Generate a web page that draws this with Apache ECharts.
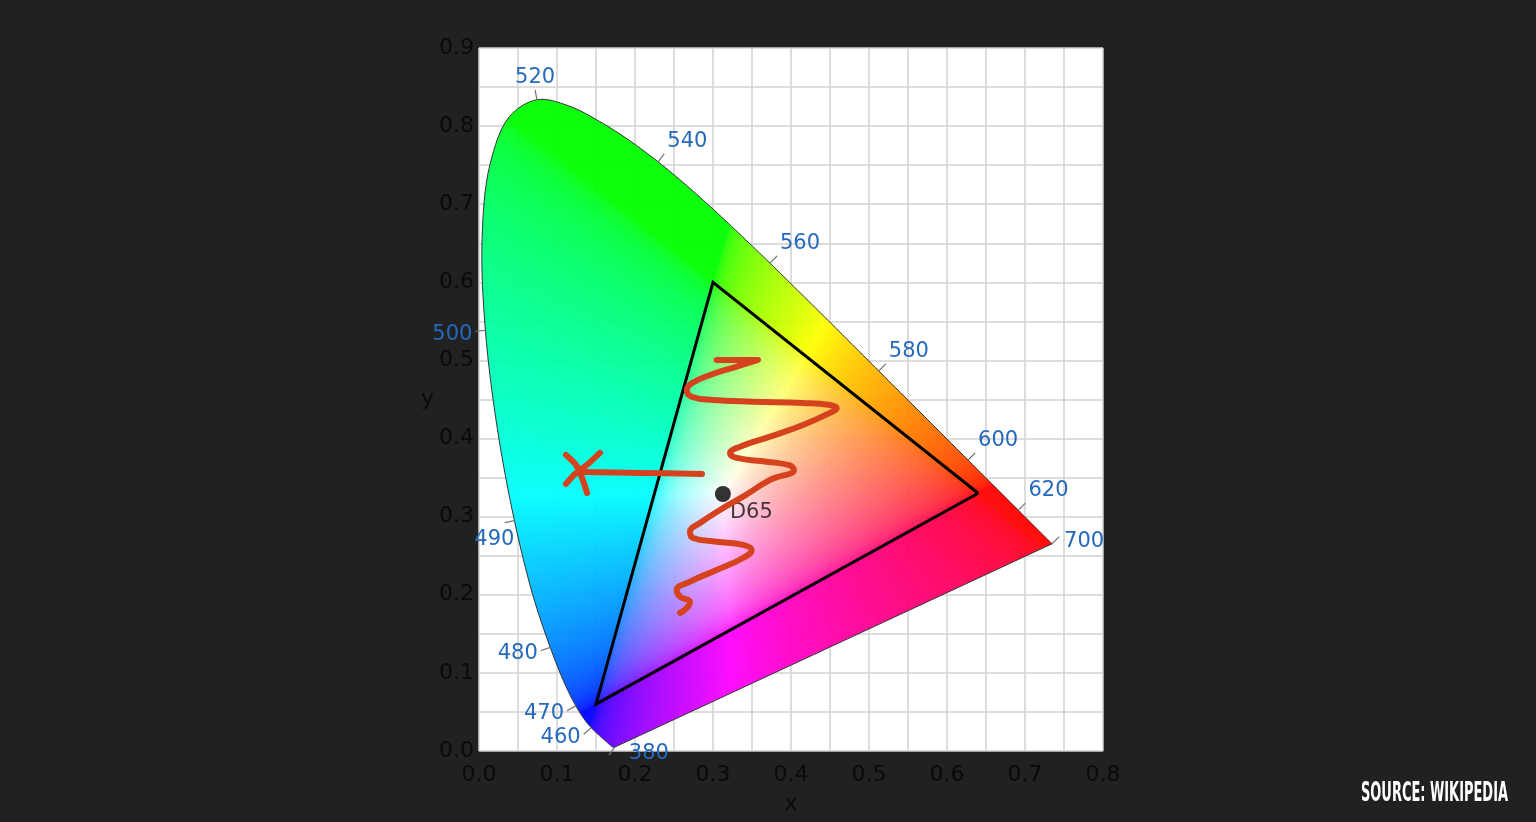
<!DOCTYPE html>
<html><head><meta charset="utf-8">
<script src="https://cdn.jsdelivr.net/npm/echarts@6/dist/echarts.min.js"></script>
<style>html,body{margin:0;padding:0;background:#212121;}#c{width:1536px;height:822px;}</style>
</head><body><div id="c"></div>
<script>
// CIE 1931 spectral locus (nm, x, y)
const wavelengths = [380,385,390,395,400,405,410,415,420,425,430,435,440,445,450,455,460,465,470,475,480,485,490,495,500,505,510,515,520,525,530,535,540,545,550,555,560,565,570,575,580,585,590,595,600,605,610,615,620,625,630,635,640,645,650,655,660,665,670,675,680,685,690,695,700];
const locusX = [0.1741,0.1740,0.1738,0.1736,0.1733,0.1730,0.1726,0.1721,0.1714,0.1703,0.1689,0.1669,0.1644,0.1611,0.1566,0.1510,0.1440,0.1355,0.1241,0.1096,0.0913,0.0687,0.0454,0.0235,0.0082,0.0039,0.0139,0.0389,0.0743,0.1142,0.1547,0.1929,0.2296,0.2658,0.3016,0.3373,0.3731,0.4087,0.4441,0.4788,0.5125,0.5448,0.5752,0.6029,0.6270,0.6482,0.6658,0.6801,0.6915,0.7006,0.7079,0.7140,0.7190,0.7230,0.7260,0.7283,0.7300,0.7311,0.7320,0.7327,0.7334,0.7340,0.7344,0.7346,0.7347];
const locusY = [0.0050,0.0050,0.0049,0.0049,0.0048,0.0048,0.0048,0.0048,0.0051,0.0058,0.0069,0.0086,0.0109,0.0138,0.0177,0.0227,0.0297,0.0399,0.0578,0.0868,0.1327,0.2007,0.2950,0.4127,0.5384,0.6548,0.7502,0.8120,0.8338,0.8262,0.8059,0.7816,0.7543,0.7243,0.6923,0.6589,0.6245,0.5896,0.5547,0.5202,0.4866,0.4544,0.4242,0.3965,0.3725,0.3514,0.3340,0.3197,0.3083,0.2993,0.2920,0.2859,0.2809,0.2770,0.2740,0.2717,0.2700,0.2689,0.2680,0.2673,0.2666,0.2660,0.2656,0.2654,0.2653];
const labeledWavelengths = [380,460,470,480,490,500,520,540,560,580,600,620,700];

// sRGB primaries triangle (R, G, B, back to R)
const gamutX = [0.64,0.30,0.15,0.64];
const gamutY = [0.33,0.60,0.06,0.33];
const whiteName = 'D65';
const whiteX = 0.3127, whiteY = 0.3290;

// hand-drawn annotation strokes
const squiggleX = [0.3047,0.3577,0.3304,0.2962,0.2727,0.2663,0.2727,0.3000,0.3513,0.4154,0.4500,0.4586,0.4500,0.4154,0.3731,0.3346,0.3218,0.3304,0.3688,0.3987,0.4038,0.3731,0.3385,0.3090,0.2833,0.2705,0.2744,0.3047,0.3385,0.3496,0.3385,0.3047,0.2705,0.2535,0.2577,0.2705,0.2663,0.2577];
const squiggleY = [0.5006,0.5006,0.4921,0.4814,0.4708,0.4622,0.4536,0.4494,0.4472,0.4456,0.4430,0.4388,0.4328,0.4174,0.4024,0.3896,0.3816,0.3752,0.3704,0.3656,0.3598,0.3470,0.3256,0.3086,0.2919,0.2808,0.2727,0.2680,0.2638,0.2574,0.2471,0.2318,0.2168,0.2061,0.1976,0.1912,0.1831,0.1767];
const shaftX = [0.2859,0.2064,0.1333];
const shaftY = [0.3547,0.3560,0.3572];
const headAX = [0.1551,0.1397,0.1231,0.1115];
const headAY = [0.3816,0.3675,0.3547,0.3419];
const headBX = [0.1115,0.1244,0.1321,0.1385];
const headBY = [0.3790,0.3662,0.3496,0.3303];

const xMin = 0, xMax = 0.8, yMin = 0, yMax = 0.9, tickStep = 0.1;
const sourceText = 'SOURCE: WIKIPEDIA';

const zip = (a, b) => a.map((v, i) => [v, b[i]]);

function gam(c) { return c <= 0.0031308 ? 12.92 * c : 1.055 * Math.pow(c, 1 / 2.4) - 0.055; }

// centripetal Catmull-Rom for drawing a smooth outline through the given pixel points
function spline(pts, steps) {
  const n = pts.length, out = [pts[0]];
  const d = (a, b) => Math.pow(Math.hypot(a[0] - b[0], a[1] - b[1]), 0.5) + 1e-4;
  for (let i = 0; i < n - 1; i++) {
    const p1 = pts[i], p2 = pts[i + 1];
    const p0 = i > 0 ? pts[i - 1] : [2 * p1[0] - p2[0], 2 * p1[1] - p2[1]];
    const p3 = i + 2 < n ? pts[i + 2] : [2 * p2[0] - p1[0], 2 * p2[1] - p1[1]];
    const t0 = 0, t1 = t0 + d(p0, p1), t2 = t1 + d(p1, p2), t3 = t2 + d(p2, p3);
    const lerp = (a, b, ta, tb, t) => [a[0] * (tb - t) / (tb - ta) + b[0] * (t - ta) / (tb - ta), a[1] * (tb - t) / (tb - ta) + b[1] * (t - ta) / (tb - ta)];
    for (let s = 1; s <= steps; s++) {
      const t = t1 + (t2 - t1) * s / steps;
      const A1 = lerp(p0, p1, t0, t1, t), A2 = lerp(p1, p2, t1, t2, t), A3 = lerp(p2, p3, t2, t3, t);
      const B1 = lerp(A1, A2, t0, t2, t), B2 = lerp(A2, A3, t1, t3, t);
      out.push(lerp(B1, B2, t1, t2, t));
    }
  }
  return out;
}

let fillCache = { key: '', canvas: null };
function renderFill(params, api) {
  const p0 = api.coord([xMin, yMax]);
  const p1 = api.coord([xMax, yMin]);
  const x0 = Math.round(p0[0]), y0 = Math.round(p0[1]);
  const w = Math.round(p1[0]) - x0, h = Math.round(p1[1]) - y0;
  const pts = spline(locusX.map((x, i) => api.coord([x, locusY[i]])), 8);
  const key = [x0, y0, w, h].join(',');
  if (fillCache.key !== key) {
    const cv = document.createElement('canvas');
    cv.width = w; cv.height = h;
    const ctx = cv.getContext('2d');
    const img = ctx.createImageData(w, h);
    const d = img.data;
    for (let py = 0; py < h; py++) {
      const y = yMax - (yMax - yMin) * (py + 0.5) / h;
      for (let px = 0; px < w; px++) {
        const x = xMin + (xMax - xMin) * (px + 0.5) / w;
        const o = (py * w + px) * 4;
        if (y <= 0.001) continue;
        const X = x / y, Z = (1 - x - y) / y;
        let r = 3.2406 * X - 1.5372 - 0.4986 * Z;
        let g = -0.9689 * X + 1.8758 + 0.0415 * Z;
        let b = 0.0557 * X - 0.2040 + 1.0570 * Z;
        r = Math.max(r, 0); g = Math.max(g, 0); b = Math.max(b, 0);
        const m = Math.max(r, g, b) || 1;
        d[o] = Math.round(255 * gam(r / m));
        d[o + 1] = Math.round(255 * gam(g / m));
        d[o + 2] = Math.round(255 * gam(b / m));
        d[o + 3] = 255;
      }
    }
    ctx.putImageData(img, 0, 0);
    ctx.globalCompositeOperation = 'destination-in';
    ctx.beginPath();
    pts.forEach((p, i) => { if (i) ctx.lineTo(p[0] - x0, p[1] - y0); else ctx.moveTo(p[0] - x0, p[1] - y0); });
    ctx.closePath();
    ctx.fillStyle = '#000';
    ctx.fill();
    fillCache = { key, canvas: cv };
  }
  return {
    type: 'group',
    children: [
      { type: 'image', style: { image: fillCache.canvas, x: x0, y: y0, width: w, height: h, opacity: 0.94 } },
      { type: 'polygon', shape: { points: pts }, style: { fill: 'none', stroke: '#333', lineWidth: 1 } }
    ]
  };
}

function renderLabel(params, api) {
  const wl = api.value(2);
  const idx = wavelengths.indexOf(wl);
  const pts = locusX.map((x, i) => api.coord([x, locusY[i]]));
  const p = pts[idx];
  const dist = (a, b) => Math.hypot(a[0] - b[0], a[1] - b[1]);
  let j = idx, k = idx;
  while (j > 0 && dist(pts[j], p) < 15) j--;
  while (k < pts.length - 1 && dist(pts[k], p) < 15) k++;
  let tx = pts[k][0] - pts[j][0], ty = pts[k][1] - pts[j][1];
  const tl = Math.hypot(tx, ty); tx /= tl; ty /= tl;
  const nx = ty, ny = -tx;
  const tick = 10;
  const ex = p[0] + nx * tick, ey = p[1] + ny * tick;
  let align = 'center', valign = 'middle', lx = ex, ly = ey;
  if (nx > 0.3) {
    align = 'left'; lx = ex + 3;
    if (ny < -0.3) { valign = 'bottom'; ly = ey - 2; }
  } else if (nx < -0.3) {
    align = 'right'; lx = ex - 3; ly = ey + 3;
  } else if (ny < 0) {
    valign = 'bottom'; ly = ey - 2;
  }
  if (wl === 490) { align = 'right'; lx = p[0]; ly = p[1] + 19; }
  if (wl === wavelengths[0]) { align = 'left'; valign = 'middle'; lx = p[0] + 14; ly = p[1] + 6; }
  if (wl === wavelengths[wavelengths.length - 1]) { align = 'left'; valign = 'middle'; lx = ex + 5; ly = p[1] - 2; }
  return {
    type: 'group',
    children: [
      { type: 'line', shape: { x1: p[0], y1: p[1], x2: ex, y2: ey }, style: { stroke: '#777', lineWidth: 1.2 } },
      { type: 'text', style: { text: String(wl), x: lx, y: ly, align: align, verticalAlign: valign, fontSize: 21, fontFamily: 'DejaVu Sans', fill: '#2569bd' } }
    ]
  };
}

const chart = echarts.init(document.getElementById('c'), null, { renderer: 'canvas' });

const meas = document.createElement('canvas').getContext('2d');
meas.font = 'bold 26px "DejaVu Sans Condensed"';
const srcScale = 147 / meas.measureText(sourceText).width;

const axisLabelStyle = { color: '#0a0a0a', fontSize: 22, fontFamily: 'DejaVu Sans' };
const gridLine = { lineStyle: { color: '#d2d2d2', width: 1.5 } };
const annot = { color: '#d5431e', width: 6, cap: 'round', join: 'round' };

chart.setOption({
  backgroundColor: '#212121',
  animation: false,
  grid: { left: 479, right: 433, top: 48, bottom: 71, show: true, backgroundColor: '#ffffff', borderWidth: 0 },
  xAxis: {
    type: 'value', min: xMin, max: xMax, interval: tickStep,
    name: 'x', nameLocation: 'middle', nameGap: 42,
    nameTextStyle: { color: '#0a0a0a', fontSize: 22, fontFamily: 'DejaVu Sans' },
    axisLine: { show: false }, axisTick: { show: false },
    axisLabel: Object.assign({ margin: 13, formatter: v => v.toFixed(1) }, axisLabelStyle),
    splitLine: Object.assign({ show: true }, gridLine),
    minorTick: { show: false, splitNumber: 2 },
    minorSplitLine: Object.assign({ show: true }, gridLine)
  },
  yAxis: {
    type: 'value', min: yMin, max: yMax, interval: tickStep,
    name: 'y', nameLocation: 'middle', nameGap: 38, nameRotate: 0,
    nameTextStyle: { color: '#0a0a0a', fontSize: 22, fontFamily: 'DejaVu Sans' },
    axisLine: { show: false }, axisTick: { show: false },
    axisLabel: Object.assign({ margin: 5, formatter: v => v.toFixed(1) }, axisLabelStyle),
    splitLine: Object.assign({ show: true }, gridLine),
    minorTick: { show: false, splitNumber: 2 },
    minorSplitLine: Object.assign({ show: true }, gridLine)
  },
  graphic: [{
    type: 'text', x: 1361, y: 794, scaleX: srcScale, silent: true,
    style: { text: sourceText, x: 0, y: 0, align: 'left', verticalAlign: 'middle', fontSize: 26, fontWeight: 'bold', fontFamily: 'DejaVu Sans Condensed', fill: '#ffffff' }
  }],
  series: [
    { type: 'custom', silent: true, renderItem: renderFill, data: [[whiteX, whiteY]], z: 1 },
    { type: 'line', silent: true, data: zip(gamutX, gamutY), symbol: 'none', lineStyle: { color: '#000', width: 3, join: 'miter' }, z: 3 },
    { type: 'custom', silent: true, renderItem: renderLabel,
      data: labeledWavelengths.map(w => { const i = wavelengths.indexOf(w); return [locusX[i], locusY[i], w]; }), z: 3 },
    { type: 'scatter', silent: true, data: [[whiteX, whiteY]], symbolSize: 16, itemStyle: { color: '#000' },
      label: { show: true, formatter: whiteName, position: 'right', offset: [-6, 19], color: '#111', fontSize: 21, fontFamily: 'DejaVu Sans' }, z: 4 },
    { type: 'line', silent: true, data: zip(squiggleX, squiggleY), smooth: 0.45, symbol: 'none', lineStyle: annot, z: 5 },
    { type: 'line', silent: true, data: zip(shaftX, shaftY), smooth: 0.3, symbol: 'none', lineStyle: annot, z: 5 },
    { type: 'line', silent: true, data: zip(headAX, headAY), smooth: 0.3, symbol: 'none', lineStyle: annot, z: 5 },
    { type: 'line', silent: true, data: zip(headBX, headBY), smooth: 0.3, symbol: 'none', lineStyle: annot, z: 5 }
  ]
});
</script>
</body></html>
